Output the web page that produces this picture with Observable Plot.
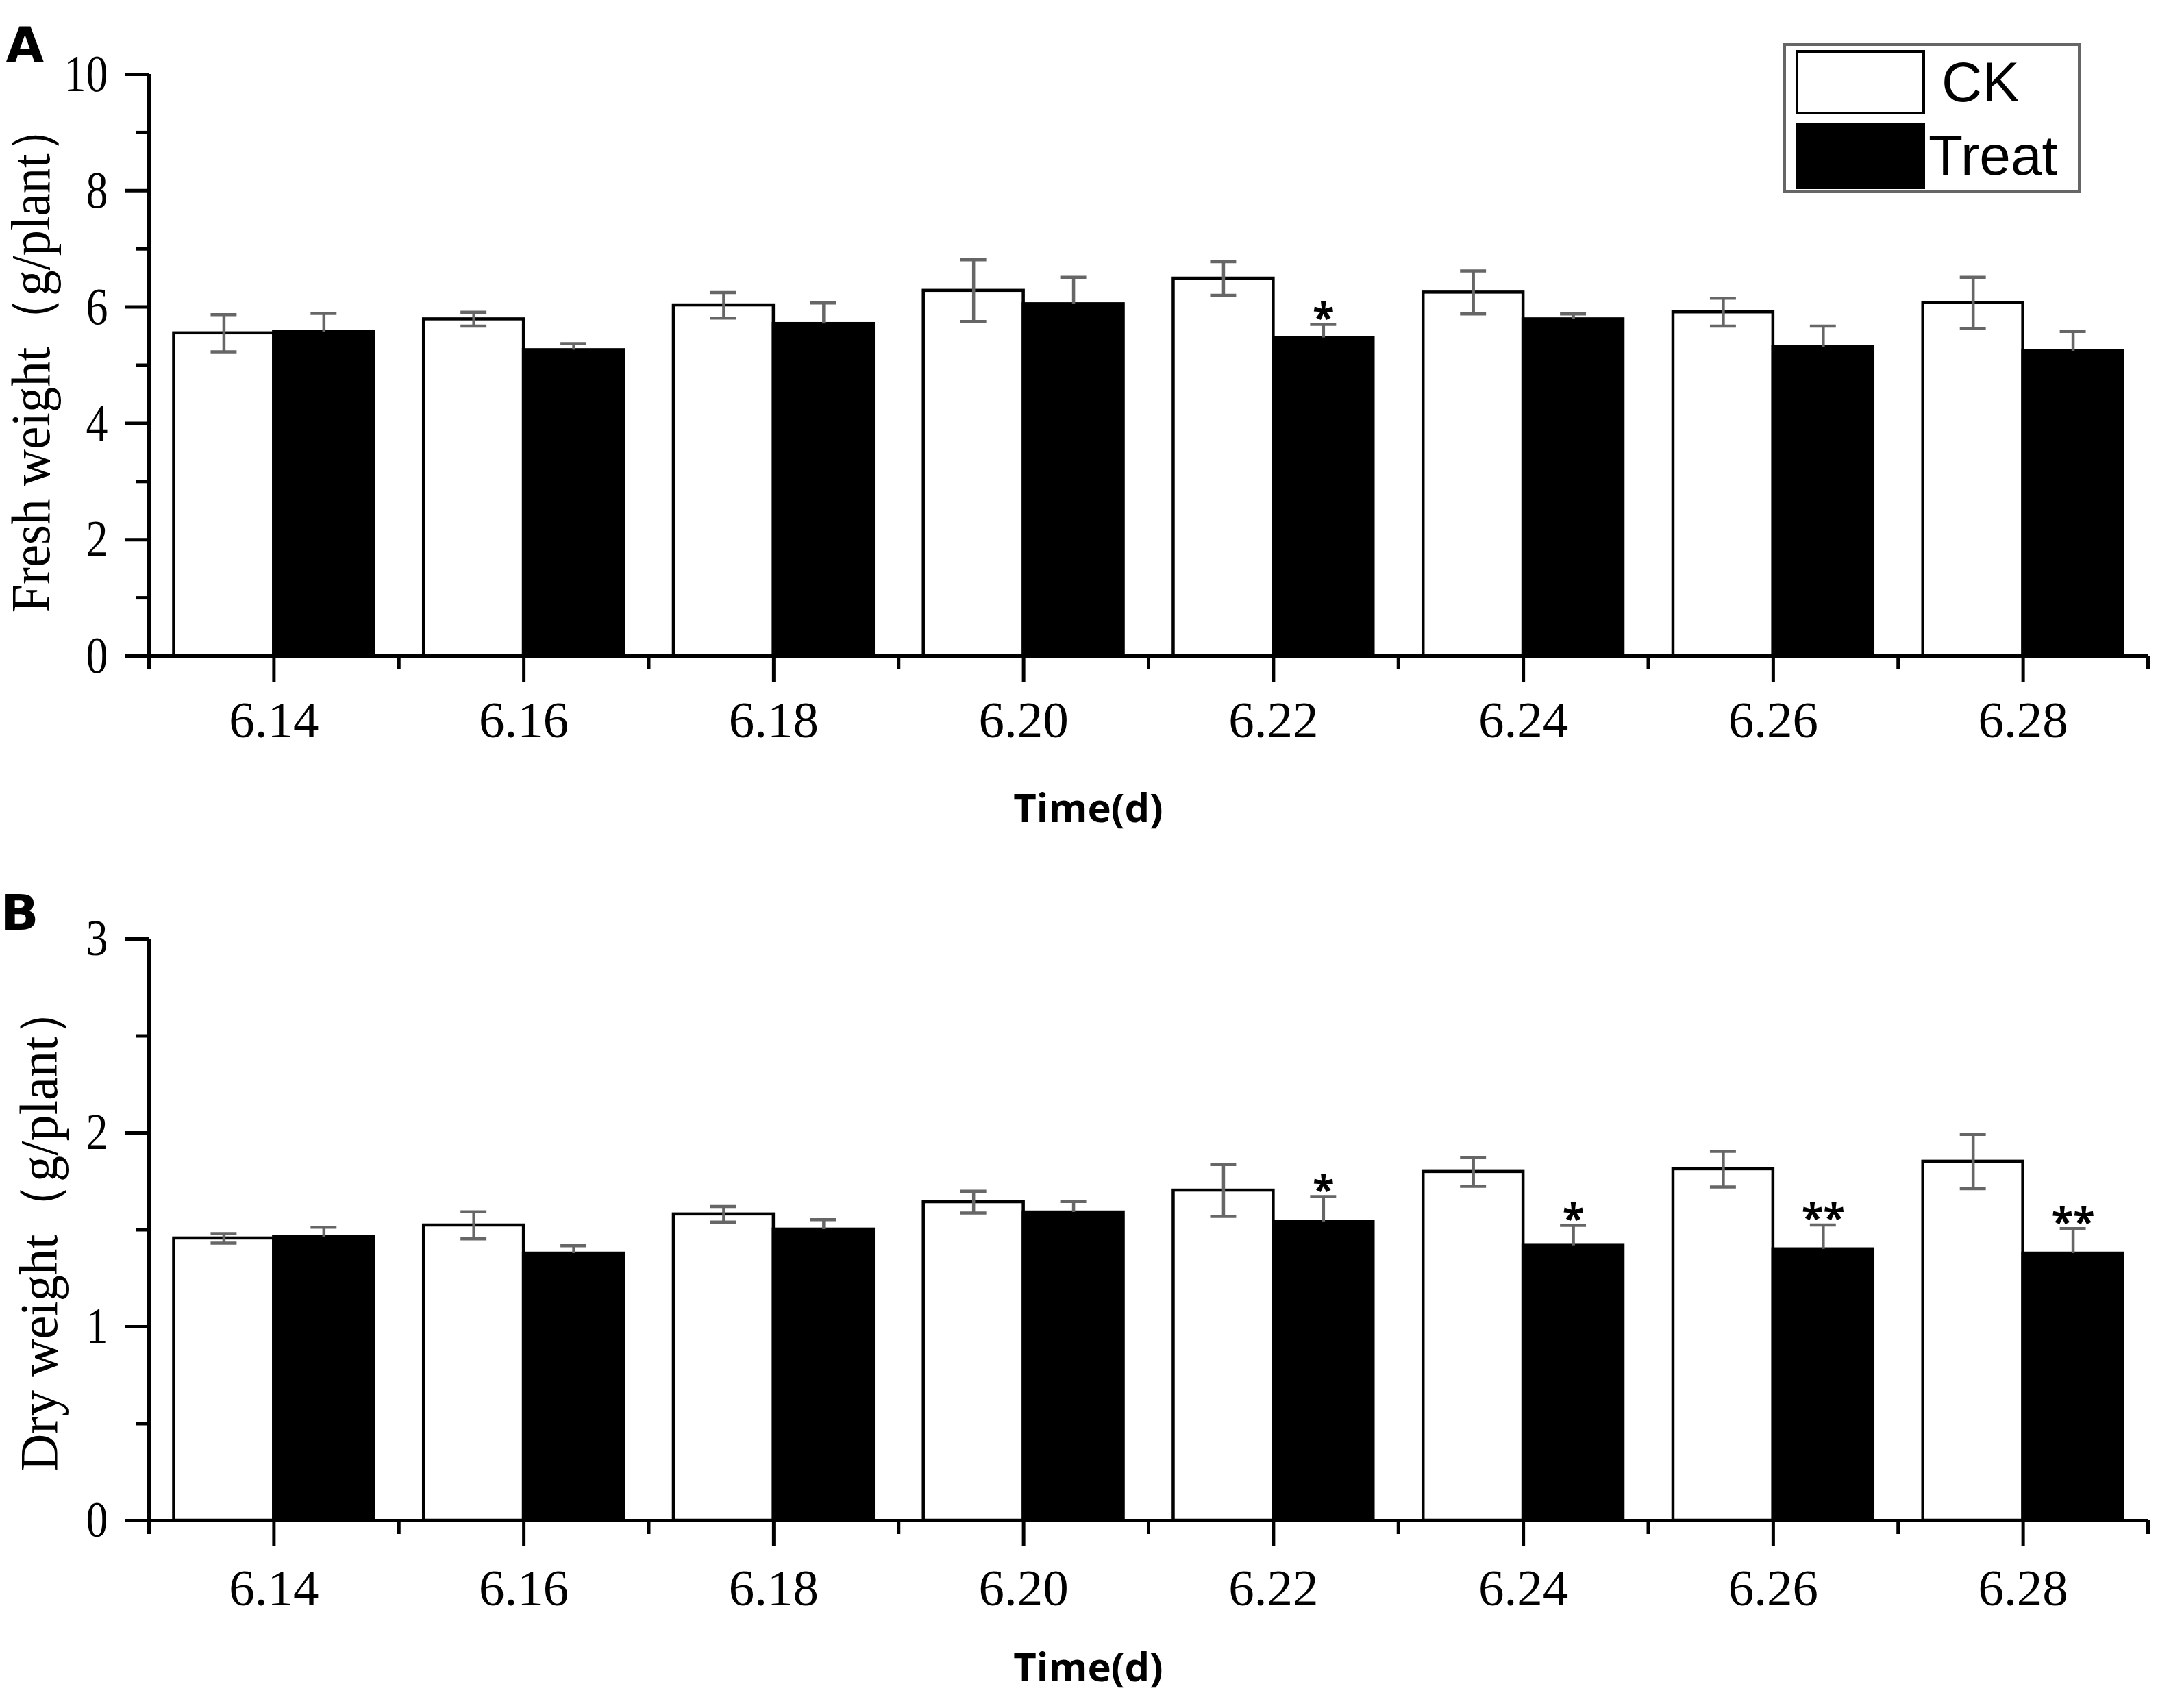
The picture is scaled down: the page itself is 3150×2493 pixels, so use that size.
<!DOCTYPE html>
<html>
<head>
<meta charset="utf-8">
<script src="https://cdn.jsdelivr.net/npm/d3@7"></script>
<script src="https://cdn.jsdelivr.net/npm/@observablehq/plot@0.6"></script>
<style>
  body { margin: 0; background: #fff; }
  #fig { position: relative; width: 3150px; height: 2493px; background: #fff; overflow: hidden; }
  #fig svg { position: absolute; left: 0; }
  .lg-box { position: absolute; left: 2603px; top: 63px; width: 434px; height: 218px; box-sizing: border-box; border: 4px solid #666; background: #fff; }
  .lg-sw { position: absolute; left: 2621px; width: 189px; box-sizing: border-box; border: 4px solid #000; }
  .lg-tx { position: absolute; font-family: "Liberation Sans", Arial, sans-serif; font-size: 82px; line-height: 1; color: #000; white-space: nowrap; }
</style>
</head>
<body>
<div id="fig"></div>
<script>
// ---------------- data ----------------
const dates = ["6.14", "6.16", "6.18", "6.20", "6.22", "6.24", "6.26", "6.28"];
const groups = ["CK", "Treat"];

// Panel A: fresh weight (g/plant)
const freshCK       = [5.55, 5.79, 6.03, 6.28, 6.49, 6.25, 5.91, 6.07];
const freshCKErr    = [0.32, 0.12, 0.22, 0.53, 0.29, 0.37, 0.24, 0.44];
const freshTreat    = [5.57, 5.26, 5.71, 6.05, 5.47, 5.79, 5.31, 5.24];
const freshTreatErr = [0.32, 0.11, 0.36, 0.46, 0.23, 0.09, 0.36, 0.34];
const freshSig      = ["", "", "", "", "*", "", "", ""];

// Panel B: dry weight (g/plant)
const dryCK       = [1.456, 1.523, 1.580, 1.643, 1.703, 1.799, 1.813, 1.852];
const dryCKErr    = [0.025, 0.070, 0.040, 0.056, 0.134, 0.075, 0.092, 0.140];
const dryTreat    = [1.463, 1.378, 1.502, 1.590, 1.541, 1.418, 1.400, 1.378];
const dryTreatErr = [0.050, 0.040, 0.050, 0.056, 0.130, 0.105, 0.125, 0.128];
const drySig      = ["", "", "", "", "*", "*", "**", "**"];

const freshTicksMajor = [0, 2, 4, 6, 8, 10];
const freshTicksMinor = [1, 3, 5, 7, 9];
const dryTicksMajor = [0, 1, 2, 3];
const dryTicksMinor = [0.5, 1.5, 2.5];

const freshLabel = "Fresh weight（g/plant）";
const dryLabel = "Dry weight（g/plant）";
const xLabel = "Time(d)";

// ---------------- helpers ----------------
// each date occupies one unit [i, i+1] on a linear x scale; bars fill 80% of it
const barInset = 0.1;
const capHalf = 0.052;

function buildRows(ck, ckErr, tr, trErr, sig) {
  const rows = [];
  dates.forEach((date, i) => {
    rows.push({date, group: "CK", value: ck[i], err: ckErr[i],
      x1: i + barInset, x2: i + 0.5, xc: i + 0.5 - (0.5 - barInset) / 2,
      lo: ck[i] - ckErr[i], hi: ck[i] + ckErr[i], sig: ""});
    rows.push({date, group: "Treat", value: tr[i], err: trErr[i],
      x1: i + 0.5, x2: i + 1 - barInset, xc: i + 0.5 + (0.5 - barInset) / 2,
      lo: tr[i], hi: tr[i] + trErr[i], sig: sig[i]});
  });
  return rows;
}

const majorX = dates.map((d, i) => i + 0.5);
const minorX = d3.range(0, dates.length + 1);

function panel(o) {
  const rows = o.rows;
  const ckRows = rows.filter(d => d.group === "CK");
  const errColor = "#666666";
  const yTickFmt = d => String(d);
  const svg = Plot.plot({
    width: 3150,
    height: o.height,
    marginTop: o.marginTop,
    marginBottom: o.marginBottom,
    marginLeft: 217,
    marginRight: 15,
    x: {type: "linear", domain: [0, dates.length]},
    y: {type: "linear", domain: [0, o.yMax]},
    style: {background: "white", color: "black", overflow: "visible"},
    marks: [
      Plot.rect(rows, {x1: "x1", x2: "x2", y1: 0, y2: "value",
        fill: d => d.group === "CK" ? "white" : "black", stroke: "black", strokeWidth: 4.5}),
      Plot.ruleX(rows, {x: "xc", y1: "lo", y2: "hi", stroke: errColor, strokeWidth: 4.5}),
      Plot.ruleY(rows, {y: "hi", x1: d => d.xc - capHalf, x2: d => d.xc + capHalf, stroke: errColor, strokeWidth: 4.5}),
      Plot.ruleY(ckRows, {y: "lo", x1: d => d.xc - capHalf, x2: d => d.xc + capHalf, stroke: errColor, strokeWidth: 4.5}),
      Plot.text(rows.filter(d => d.sig), {x: "xc", y: "hi", text: "sig", dy: -8,
        fontSize: 58, fontWeight: "bold", fontFamily: "Open Sans", fill: "black"}),
      Plot.ruleX([0], {stroke: "black", strokeWidth: 5}),
      Plot.ruleY([0], {stroke: "black", strokeWidth: 5}),
      Plot.axisY({ticks: o.yMajor, tickFormat: yTickFmt, tickSize: 34, tickPadding: 26, fontSize: o.yTickFont,
        fontFamily: "Liberation Serif", strokeWidth: 5, label: null}),
      Plot.axisY({ticks: o.yMinor, tickSize: 18, tickFormat: () => "", strokeWidth: 5, label: null}),
      Plot.axisX({ticks: majorX, tickFormat: d => dates[Math.floor(d)], tickSize: 38, tickPadding: o.xPad,
        fontSize: 75, fontFamily: "Liberation Serif", strokeWidth: 5, label: null}),
      Plot.axisX({ticks: minorX, tickFormat: () => "", tickSize: 20, strokeWidth: 5, label: null}),
      Plot.text([o.yLabel], {text: d => d, frameAnchor: "left", textAnchor: "middle", rotate: -90,
        dx: o.yLabelDx, dy: o.yLabelDy, fontSize: o.yLabelFont, fontFamily: "Liberation Serif", fill: "black"}),
      Plot.text([xLabel], {text: d => d, frameAnchor: "bottom", textAnchor: "middle", dx: -88, dy: o.xLabelDy,
        fontSize: 58, fontWeight: "bold", fontFamily: "Open Sans", fill: "black"}),
      Plot.text([o.letter], {text: d => d, frameAnchor: "top-left", textAnchor: "start", dx: o.letterDx, dy: o.letterDy,
        fontSize: 72, fontWeight: "bold", fontFamily: "DejaVu Sans", fill: "black"})
    ]
  });
  const yTickTexts = new Set(o.yMajor.map(yTickFmt));
  svg.querySelectorAll("text").forEach(t => {
    const s = t.textContent;
    if (s === o.yLabel) {
      t.setAttribute("textLength", o.yLabelLength);
      t.setAttribute("lengthAdjust", "spacingAndGlyphs");
    } else if (yTickTexts.has(s) && t.closest("g[aria-label='y-axis tick label']")) {
      t.setAttribute("textLength", s.length * 32);
      t.setAttribute("lengthAdjust", "spacingAndGlyphs");
    }
  });
  svg.style.top = o.top + "px";
  return svg;
}

const fig = document.getElementById("fig");

fig.appendChild(panel({
  rows: buildRows(freshCK, freshCKErr, freshTreat, freshTreatErr, freshSig),
  yMax: 10, yMajor: freshTicksMajor, yMinor: freshTicksMinor, yTickFont: 77,
  yLabel: freshLabel, yLabelLength: 745, yLabelDx: -171, yLabelDy: -11, yLabelFont: 80,
  letter: "A", letterDx: -209, letterDy: -70,
  height: 1246, marginTop: 108, marginBottom: 289, top: 0, xPad: 27, xLabelDy: 242
}));

fig.appendChild(panel({
  rows: buildRows(dryCK, dryCKErr, dryTreat, dryTreatErr, drySig),
  yMax: 3, yMajor: dryTicksMajor, yMinor: dryTicksMinor, yTickFont: 73,
  yLabel: dryLabel, yLabelLength: 712, yLabelDx: -159, yLabelDy: -3, yLabelFont: 78,
  letter: "B", letterDx: -216, letterDy: -65,
  height: 1247, marginTop: 124, marginBottom: 274, top: 1246, xPad: 32, xLabelDy: 234
}));

// legend (panel A, top right)
const legendItems = [
  {key: groups[0], fill: "#fff", swTop: 73, swH: 94, txLeft: 2834, txTop: 79},
  {key: groups[1], fill: "#000", swTop: 179, swH: 97, txLeft: 2815, txTop: 186}
];
const box = document.createElement("div");
box.className = "lg-box";
fig.appendChild(box);
legendItems.forEach(it => {
  const sw = document.createElement("div");
  sw.className = "lg-sw";
  sw.style.top = it.swTop + "px";
  sw.style.height = it.swH + "px";
  sw.style.background = it.fill;
  fig.appendChild(sw);
  const tx = document.createElement("div");
  tx.className = "lg-tx";
  tx.style.left = it.txLeft + "px";
  tx.style.top = it.txTop + "px";
  tx.textContent = it.key;
  fig.appendChild(tx);
});
</script>
</body>
</html>
